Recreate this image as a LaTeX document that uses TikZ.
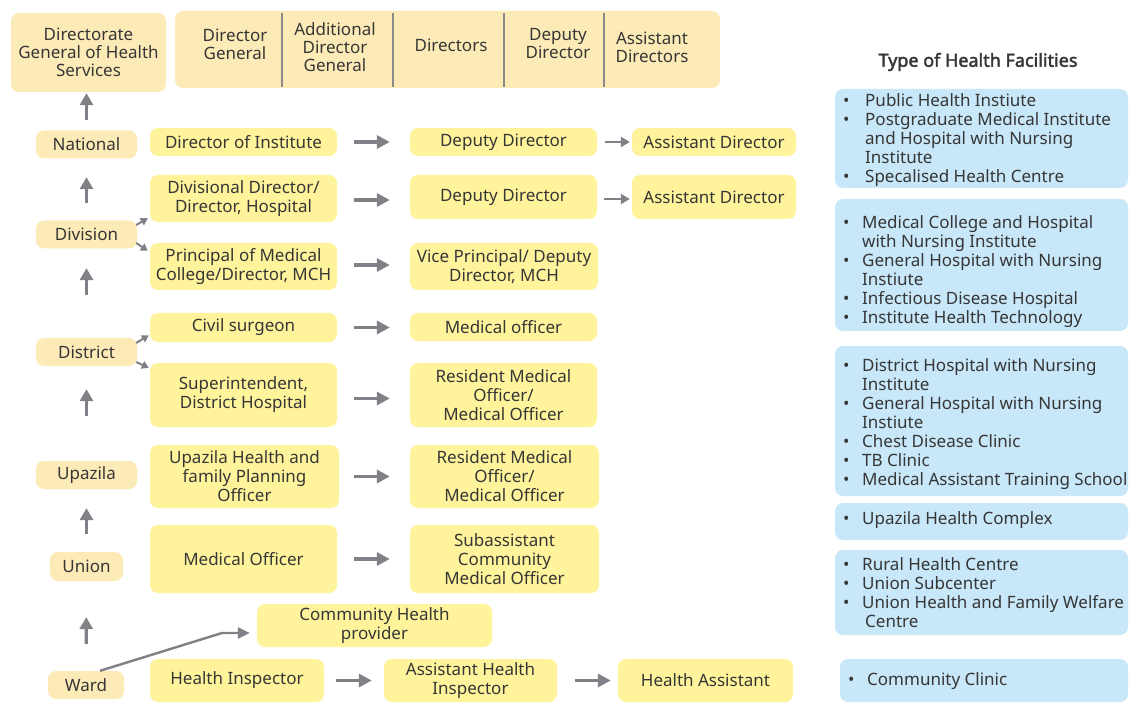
\documentclass[tikz,border=0pt]{standalone}
\usepackage{fontspec}
\setmainfont{Noto Sans}
\newfontfamily\titlefont{Noto Sans}[FakeBold=2.2]
\usetikzlibrary{arrows.meta}

\definecolor{peach}{HTML}{FDEBB7}
\definecolor{yel}{HTML}{FFF49B}
\definecolor{blu}{HTML}{C8E7F8}
\definecolor{txt}{HTML}{363636}
\definecolor{argray}{HTML}{808086}
\definecolor{divgray}{HTML}{8A8A8A}

% bullet item helpers for the facility lists
\newcommand\blt[1]{\makebox[#1pt][l]{\hspace{8pt}•}}
\newcommand\ind[1]{\hspace*{#1pt}}

\begin{document}
\begin{tikzpicture}[x=1pt,y=-1pt,
  font=\fontsize{17}{19}\selectfont, text=txt,
  box/.style={rounded corners=8pt, inner sep=0pt, align=center},
  lvl/.style={box, fill=peach},
  yb/.style={box, fill=yel},
  fb/.style={box, fill=blu},
  sz/.style 2 args={minimum width=#1pt, minimum height=#2pt},
  lst/.style={inner sep=0pt, align=left, anchor=west},
  uparr/.style={draw=argray, line width=3.2pt, -{Triangle[length=12pt,width=13pt]}},
  harr/.style={draw=argray, line width=3.2pt, -{Triangle[length=13pt,width=13pt]}},
  sarr/.style={draw=argray, line width=2.2pt, -{Triangle[length=9pt,width=10pt]}},
  farr/.style={draw=argray, line width=2pt, -{Triangle[length=7pt,width=8pt]}},
  divline/.style={draw=divgray, line width=1.2pt}]

\fill[white] (0,0) rectangle (1129,708);
\useasboundingbox (0,0) rectangle (1129,708);

% ---- top header ----
\node[lvl, sz={155}{79}, font=\fontsize{17}{18}\selectfont] (dghs) at (88.5,52.5)
  {Directorate\\General of Health\\Services};
\node[lvl, sz={545}{77}] (header) at (447.5,49.5) {};
\draw[divline] (282,13) -- (282,87);
\draw[divline] (393,13) -- (393,87);
\draw[divline] (504,13) -- (504,87);
\draw[divline] (604,13) -- (604,87);
\begin{scope}[every node/.style={inner sep=0pt, align=center, font=\fontsize{17}{18}\selectfont}]
  \node (hdg)  at (235,44.5) {Director\\General};
  \node (hadg) at (335,47)   {Additional\\Director\\General};
  \node (hdir) at (451,45)   {Directors};
  \node (hdd)  at (558,44)   {Deputy\\Director};
  \node (had)  at (652,47)   {Assistant\\Directors};
\end{scope}

% ---- administrative levels ----
\node[lvl, sz={101}{28}] (national) at (86.5,144.5) {National};
\node[lvl, sz={101}{28}] (division) at (86.5,234.5) {Division};
\node[lvl, sz={101}{28}] (district) at (86.5,352)   {District};
\node[lvl, sz={101}{28}] (upazila)  at (86.5,475)   {Upazila};
\node[lvl, sz={73}{29}]  (union)    at (86.5,566.5) {Union};
\node[lvl, sz={76}{28}]  (ward)     at (86,685)     {Ward};

% ---- officers, first column ----
\node[yb, sz={187}{28}] (dinst)  at (243.5,142)   {Director of Institute};
\node[yb, sz={187}{47}] (divdir) at (243.5,198.5) {Divisional Director/\\Director, Hospital};
\node[yb, sz={187}{47}] (princ)  at (243.5,266.5) {Principal of Medical\\College/Director, MCH};
\node[yb, sz={187}{29}] (civil)  at (243.5,327.5) {Civil surgeon};
\node[yb, sz={187}{64}] (supt)   at (243.5,395)   {Superintendent,\\District Hospital};
\node[yb, sz={189}{63}] (uhfpo)  at (244.5,476.5) {Upazila Health and\\family Planning\\Officer};
\node[yb, sz={187}{68}] (umo)    at (243.5,559)   {Medical Officer};
\node[yb, sz={235}{43}] (chp)    at (374.5,625.5) {Community Health\\provider};
\node[yb, sz={174}{43}] (hi)     at (237,680.5)   {Health Inspector};
\node[yb, sz={173}{43}] (ahi)    at (470.5,680.5) {Assistant Health\\Inspector};
\node[yb, sz={175}{43}] (ha)     at (705.5,680.5) {Health Assistant};

% ---- officers, second column ----
\node[yb, sz={187}{28}] (dd1)   at (503.5,142)   {Deputy Director};
\node[yb, sz={187}{44}] (dd2)   at (503.5,197)   {Deputy Director};
\node[yb, sz={188}{47}] (vp)    at (504,266.5)   {Vice Principal/ Deputy\\Director, MCH};
\node[yb, sz={187}{28}] (mo)    at (503.5,327)   {Medical officer};
\node[yb, sz={187}{64}] (rmo1)  at (503.5,395)   {Resident Medical\\Officer/\\Medical Officer};
\node[yb, sz={189}{63}] (rmo2)  at (504.5,476.5) {Resident Medical\\Officer/\\Medical Officer};
\node[yb, sz={189}{68}] (sacmo) at (504.5,559)   {Subassistant\\Community\\Medical Officer};

% ---- officers, third column ----
\node[yb, sz={164}{28}] (ad1) at (714,142) {Assistant Director};
\node[yb, sz={164}{44}] (ad2) at (714,197) {Assistant Director};

% ---- health facilities ----
\node[font=\titlefont\fontsize{18}{20}\selectfont] (title) at (978,62) {Type of Health Facilities};
\node[fb, sz={293}{99}]  (f1) at (981.5,138.5) {};
\node[fb, sz={293}{132}] (f2) at (981.5,265)   {};
\node[fb, sz={293}{150}] (f3) at (981.5,421)   {};
\node[fb, sz={293}{37}]  (f4) at (981.5,521.5) {};
\node[fb, sz={293}{85}]  (f5) at (981.5,592.5) {};
\node[fb, sz={288}{43}]  (f6) at (984,680.5)   {};

\node[lst] (f1t) at (835,140) {\blt{30}Public Health Instiute\\
  \blt{30}Postgraduate Medical Institute\\ \ind{30}and Hospital with Nursing\\
  \ind{30}Institute\\ \blt{30}Specalised Health Centre};
\node[lst] (f2t) at (835,271.5) {\blt{27}Medical College and Hospital\\
  \ind{27}with Nursing Institute\\ \blt{27}General Hospital with Nursing\\
  \ind{27}Instiute\\ \blt{27}Infectious Disease Hospital\\ \blt{27}Institute Health Technology};
\node[lst] (f3t) at (835,424) {\blt{27}District Hospital with Nursing\\
  \ind{27}Institute\\ \blt{27}General Hospital with Nursing\\ \ind{27}Instiute\\
  \blt{27}Chest Disease Clinic\\ \blt{27}TB Clinic\\ \blt{27}Medical Assistant Training School};
\node[lst] (f4t) at (835,520.5) {\blt{27}Upazila Health Complex};
\node[lst] (f5t) at (835,593) {\blt{27}Rural Health Centre\\ \blt{27}Union Subcenter\\
  \blt{27}Union Health and Family Welfare\\ \ind{30}Centre};
\node[lst] (f6t) at (840,681.5) {\blt{27}Community Clinic};

% ---- reporting lines between levels ----
\draw[uparr, shorten <=10pt, shorten >=1pt] (national.north) -- (national.north |- dghs.south);
\draw[uparr, shorten <=17.5pt, shorten >=18.5pt] (division.north) -- (national.south);
\draw[uparr, shorten <=43pt, shorten >=19.5pt] (district.north) -- (division.south);
\draw[uparr, shorten <=45pt, shorten >=23pt] (upazila.north) -- (district.south);
\draw[uparr, shorten <=18pt, shorten >=19pt] (union.north) -- (upazila.south);
\draw[uparr, shorten <=27pt, shorten >=36pt] (ward.north) -- (union.south);

% ---- level to officer ----
\draw[farr] ([xshift=-1pt,yshift=9.5pt]division.east) -- ([xshift=-2pt,yshift=4pt]divdir.south west);
\draw[farr] ([xshift=-1pt,yshift=-8.5pt]division.east) -- ([xshift=-2pt,yshift=-8pt]princ.north west);
\draw[farr] ([xshift=-1pt,yshift=9pt]district.east) -- ([xshift=-1pt,yshift=7pt]civil.south west);
\draw[farr] ([xshift=-1pt,yshift=-10pt]district.east) -- ([xshift=-1pt,yshift=-5pt]supt.north west);
\coordinate (wbend) at (222,633);
\draw[draw=argray, line width=2.4pt, -{Triangle[length=12pt,width=11pt]}, shorten >=7pt]
  ([xshift=14pt]ward.north) -- (wbend) -- (wbend -| chp.west);

% ---- officer to subordinate ----
\draw[harr, shorten <=17pt, shorten >=20pt] (dinst.east) -- (dinst.east -| dd1.west);
\draw[harr, shorten <=17pt, shorten >=20pt] ([yshift=-1.5pt]divdir.east) -- ([yshift=-1.5pt]divdir.east -| dd2.west);
\draw[harr, shorten <=17pt, shorten >=20pt] ([yshift=1.5pt]princ.east) -- ([yshift=1.5pt]princ.east -| vp.west);
\draw[harr, shorten <=17pt, shorten >=20pt] (civil.east) -- (civil.east -| mo.west);
\draw[harr, shorten <=17pt, shorten >=20pt] ([yshift=-3.5pt]supt.east) -- ([yshift=-3.5pt]supt.east -| rmo1.west);
\draw[harr, shorten <=15pt, shorten >=20pt] (uhfpo.east) -- (uhfpo.east -| rmo2.west);
\draw[harr, shorten <=17pt, shorten >=20pt] (umo.east) -- (umo.east -| sacmo.west);
\draw[harr, shorten <=12pt, shorten >=12pt] (hi.east) -- (hi.east -| ahi.west);
\draw[harr, shorten <=18pt, shorten >=7pt] (ahi.east) -- (ahi.east -| ha.west);
\draw[sarr, shorten <=8pt, shorten >=2pt] (dd1.east) -- (dd1.east -| ad1.west);
\draw[sarr, shorten <=7pt, shorten >=2pt] ([yshift=-2pt]dd2.east) -- ([yshift=-2pt]dd2.east -| ad2.west);

\end{tikzpicture}
\end{document}
